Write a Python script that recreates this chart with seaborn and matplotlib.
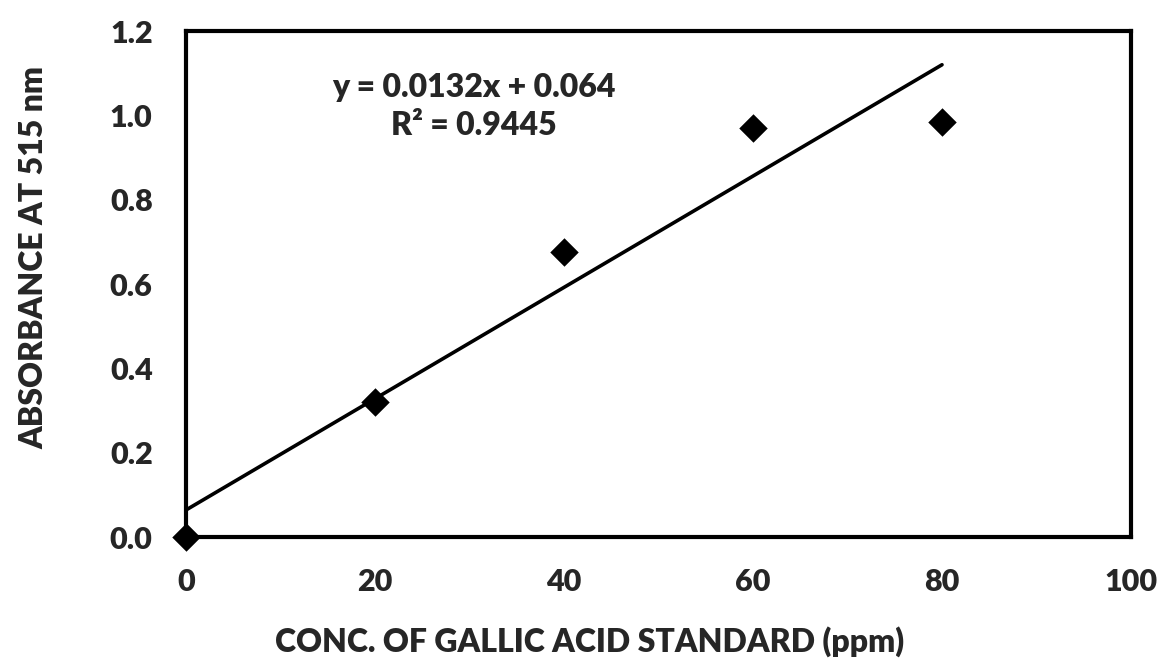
import matplotlib
matplotlib.use("Agg")
import matplotlib.pyplot as plt
import seaborn as sns
import numpy as np
import pandas as pd

conc = [0, 20, 40, 60, 80]
absorbance = [0.0, 0.32, 0.675, 0.97, 0.985]
slope = 0.0132
intercept = 0.064
r2 = 0.9445
x_ticks = [0, 20, 40, 60, 80, 100]
y_ticks = [0.0, 0.2, 0.4, 0.6, 0.8, 1.0, 1.2]
x_label = "CONC. OF GALLIC ACID STANDARD (ppm)"
y_label = "ABSORBANCE AT 515 nm"

sns.set_theme(style="white")
plt.rcParams['font.family'] = ['Lato', 'DejaVu Sans']
W = "heavy"

fig = plt.figure(figsize=(11.66, 6.67), dpi=100)
ax = fig.add_axes([0.1595, 0.1949, 0.8105, 0.7586])

df = pd.DataFrame({"conc": conc, "abs": absorbance})
fit_x = np.array([conc[0], conc[-1]])
fit_df = pd.DataFrame({"x": fit_x, "y": slope * fit_x + intercept})
sns.lineplot(data=fit_df, x="x", y="y", ax=ax, color="black", linewidth=2.6)
sns.scatterplot(data=df, x="conc", y="abs", ax=ax, marker="D", s=210,
                color="black", linewidth=0, zorder=5, clip_on=False)

ax.set_xlim(0, 100)
ax.set_ylim(0, 1.2)
ax.set_xticks(x_ticks)
ax.set_yticks(y_ticks)
ax.set_xticklabels([str(t) for t in x_ticks])
ax.set_yticklabels([f"{t:.1f}" for t in y_ticks])
ax.tick_params(axis="both", direction="out", length=6, width=2.5, color="black",
               labelsize=22)
ax.tick_params(axis="y", pad=18)
ax.tick_params(axis="x", pad=16)
for lab in ax.get_xticklabels() + ax.get_yticklabels():
    lab.set_fontweight(W)
for sp in ax.spines.values():
    sp.set_visible(True)
    sp.set_linewidth(3)
    sp.set_color("black")

ax.set_xlabel(x_label, fontsize=23, fontweight=W, labelpad=22)
ax.set_ylabel(y_label, fontsize=23, fontweight=W, labelpad=44)
ax.xaxis.label.set_x(0.4275)
ax.yaxis.label.set_y(0.553)

ax.text(30.5, 1.066, f"y = {slope}x + {intercept}", fontsize=23, fontweight=W,
        ha="center", va="center")
ax.text(30.5, 0.975, f"R² = {r2}", fontsize=23, fontweight=W,
        ha="center", va="center")

fig.savefig("out.png", dpi=100, facecolor="white")
